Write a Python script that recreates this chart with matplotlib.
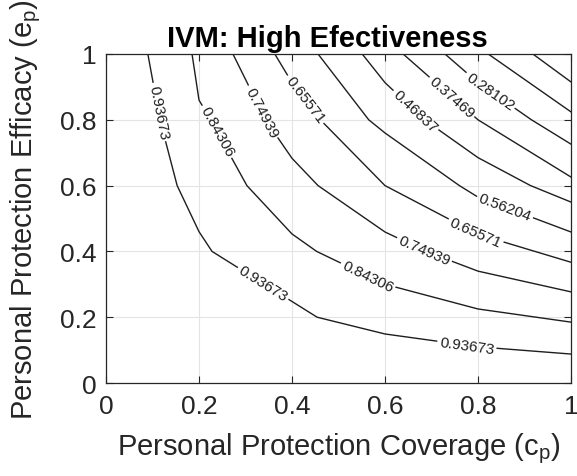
import numpy as np
import matplotlib
matplotlib.use("Agg")
import matplotlib.pyplot as plt

plt.rcParams['font.family'] = ['Liberation Sans', 'DejaVu Sans']
plt.rcParams['mathtext.default'] = 'regular'

# contour levels of the outcome over (coverage c_p, efficacy e_p)
levels = [0.93673, 0.84306, 0.74939, 0.65571, 0.56204,
          0.46837, 0.37469, 0.28102, 0.18735, 0.093673]

# each trace: vertices where the contour crosses the 0.2-spaced grid
c_l1 = [0.090, 0.116, 0.153, 0.200, 0.228, 0.454, 0.600, 0.800, 1.000]
e_l1 = [1.000, 0.800, 0.600, 0.460, 0.400, 0.200, 0.149, 0.110, 0.088]
c_l2 = [0.185, 0.200, 0.225, 0.303, 0.400, 0.453, 0.600, 0.800, 1.000]
e_l2 = [1.000, 0.860, 0.800, 0.600, 0.453, 0.400, 0.300, 0.225, 0.185]
c_l3 = [0.273, 0.343, 0.400, 0.456, 0.600, 0.688, 0.800, 1.000]
e_l3 = [1.000, 0.800, 0.683, 0.600, 0.459, 0.400, 0.340, 0.277]
c_l4 = [0.363, 0.400, 0.461, 0.600, 0.800, 1.000]
e_l4 = [1.000, 0.913, 0.800, 0.600, 0.452, 0.367]
c_l5 = [0.456, 0.565, 0.600, 0.760, 0.800, 1.000]
e_l5 = [1.000, 0.800, 0.760, 0.600, 0.565, 0.459]
c_l6 = [0.551, 0.600, 0.685, 0.800, 0.913, 1.000]
e_l6 = [1.000, 0.913, 0.800, 0.685, 0.600, 0.550]
c_l7 = [0.639, 0.800, 1.000]
e_l7 = [1.000, 0.800, 0.626]
c_l8 = [0.729, 0.800, 0.915, 1.000]
e_l8 = [1.000, 0.913, 0.800, 0.726]
c_l9 = [0.822, 1.000]
e_l9 = [1.000, 0.824]
c_l10 = [0.918, 1.000]
e_l10 = [1.000, 0.915]

# coverage values where the inline labels sit
lab_l1 = [0.113, 0.338, 0.776]
lab_l2 = [0.239, 0.563]
lab_l3 = [0.335, 0.684]
lab_l4 = [0.428, 0.794]
lab_l5 = [0.858]
lab_l6 = [0.665]
lab_l7 = [0.744]
lab_l8 = [0.826]

traces = [(c_l1, e_l1, lab_l1), (c_l2, e_l2, lab_l2), (c_l3, e_l3, lab_l3),
          (c_l4, e_l4, lab_l4), (c_l5, e_l5, lab_l5), (c_l6, e_l6, lab_l6),
          (c_l7, e_l7, lab_l7), (c_l8, e_l8, lab_l8), (c_l9, e_l9, []),
          (c_l10, e_l10, [])]

ticks = [0, 0.2, 0.4, 0.6, 0.8, 1.0]
tick_labels = ['0', '0.2', '0.4', '0.6', '0.8', '1']

fig = plt.figure(figsize=(5.77, 4.77), dpi=100)
ax = fig.add_axes([106 / 577, 1 - 384 / 477, 465 / 577, 329 / 477])
ax.set_xlim(0, 1)
ax.set_ylim(0, 1)
ax.set_xticks(ticks, tick_labels)
ax.set_yticks(ticks, tick_labels)
ax.tick_params(direction='in', top=True, right=True, length=5, width=0.8,
               labelsize=19, colors='#262626')
ax.tick_params(axis='x', pad=8)
ax.tick_params(axis='y', pad=7)
for sp in ax.spines.values():
    sp.set_color('#262626')
    sp.set_linewidth(0.9)
ax.grid(True, color='#e4e4e4', linewidth=0.8)
ax.set_axisbelow(True)

renderer = fig.canvas.get_renderer()
line_color = '#1e1e1e'


def draw_contour(cs, es, level, label_cs):
    cs = np.asarray(cs, float)
    es = np.asarray(es, float)
    pts = ax.transData.transform(np.column_stack([cs, es]))
    s = np.concatenate([[0.0], np.cumsum(np.hypot(*np.diff(pts, axis=0).T))])
    gaps = []
    for c0 in label_cs:
        e0 = np.interp(c0, cs, es)
        s0 = np.interp(c0, cs, s)
        xa, ya = np.interp(s0 - 12, s, pts[:, 0]), np.interp(s0 - 12, s, pts[:, 1])
        xb, yb = np.interp(s0 + 12, s, pts[:, 0]), np.interp(s0 + 12, s, pts[:, 1])
        ang = np.degrees(np.arctan2(yb - ya, xb - xa))
        if ang > 90:
            ang -= 180
        elif ang < -90:
            ang += 180
        t = ax.text(c0, e0, f'{level:.5g}', fontsize=11, color='#1e1e1e',
                    ha='center', va='center', rotation_mode='anchor')
        w = t.get_window_extent(renderer).width
        t.set_rotation(ang)
        gaps.append((s0 - w / 2 - 3, s0 + w / 2 + 3))
    bounds = [0.0] + [v for g in gaps for v in g] + [s[-1]]
    inv = ax.transData.inverted()
    for a, b in zip(bounds[0::2], bounds[1::2]):
        if b <= a:
            continue
        ss = np.concatenate([[a], s[(s > a) & (s < b)], [b]])
        xy = np.column_stack([np.interp(ss, s, pts[:, 0]), np.interp(ss, s, pts[:, 1])])
        d = inv.transform(xy)
        ax.plot(d[:, 0], d[:, 1], color=line_color, linewidth=1.0)


for level, (cs, es, lab) in zip(levels, traces):
    draw_contour(cs, es, level, lab)

ax.set_title('IVM: High Efectiveness', fontsize=21, fontweight='bold',
             x=0.477, pad=6, color='black')
ax.set_xlabel('Personal Protection Coverage (c$_p$)', fontsize=21, color='#262626')
ax.set_ylabel('Personal Protection Efficacy (e$_p$)', fontsize=21, color='#262626')
ax.xaxis.set_label_coords(0.5, -0.145)
ax.yaxis.set_label_coords(-0.135, 0.53)

fig.savefig('out.png', dpi=100)
